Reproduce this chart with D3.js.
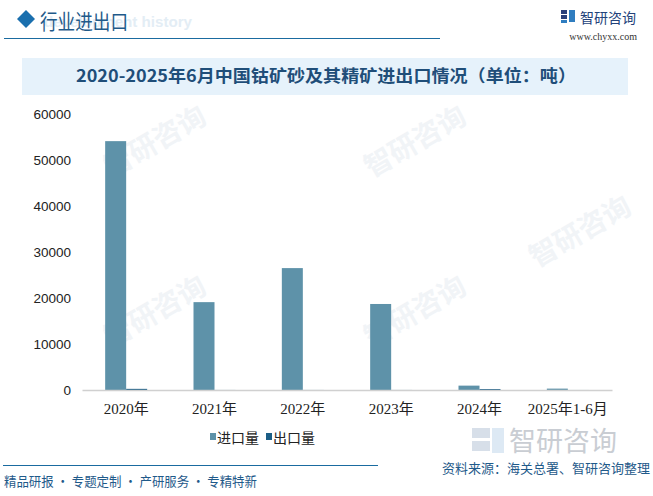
<!DOCTYPE html>
<html><head><meta charset="utf-8">
<script src="https://cdn.jsdelivr.net/npm/d3@7"></script>
<style>body{margin:0;background:#fff;}svg{display:block;}</style>
</head><body>
<script>
const categories = ["2020年","2021年","2022年","2023年","2024年","2025年1-6月"];
const importValues = [54100, 19100, 26500, 18700, 950, 300];
const exportValues = [250, 10, 10, 10, 200, 5];
const seriesNames = ["进口量","出口量"];
const seriesColors = ["#5e92a9","#1b5e86"];
const yTicks = [0,10000,20000,30000,40000,50000,60000];

const W=653,H=496;
const svg=d3.select("body").append("svg").attr("width",W).attr("height",H);

// faint watermarks
const wm=svg.append("g").attr("fill","#f1f4f7").attr("font-family","Noto Sans CJK SC").attr("font-weight","bold");
[[160,150],[420,150],[160,320],[420,320],[585,240]].forEach(p=>{
  wm.append("text").attr("transform",`translate(${p[0]},${p[1]}) rotate(-30)`).attr("text-anchor","middle")
    .attr("font-size",28).text("智研咨询");
});

// header
svg.append("path").attr("d","M17,19 L26,10 L35,19 L26,28 Z").attr("fill","#1a6fae");
svg.append("text").attr("x",44).attr("y",27).attr("font-family","Liberation Sans").attr("font-weight","bold")
  .attr("font-size",15).attr("fill","#e3edf5").attr("textLength",148).attr("lengthAdjust","spacingAndGlyphs")
  .text("development history");
svg.append("text").attr("x",40).attr("y",29).attr("font-family","Noto Sans CJK SC").attr("font-size",21)
  .attr("fill","#1f5a8a").attr("textLength",88).attr("lengthAdjust","spacingAndGlyphs").text("行业进出口");
svg.append("line").attr("x1",4).attr("x2",440).attr("y1",38.5).attr("y2",38.5).attr("stroke","#1a6ba0").attr("stroke-width",1.2);
// logo
const lg=svg.append("g");
lg.append("rect").attr("x",561).attr("y",10).attr("width",6).attr("height",4).attr("fill","#2a3f7a");
lg.append("rect").attr("x",561).attr("y",15).attr("width",6).attr("height",4).attr("fill","#2a3f7a");
lg.append("rect").attr("x",569).attr("y",10).attr("width",6).attr("height",12).attr("fill","#2f7dc0");
lg.append("rect").attr("x",561).attr("y",20).attr("width",6).attr("height",3).attr("fill","#2f7dc0");
svg.append("text").attr("x",580).attr("y",23).attr("font-family","Noto Sans CJK SC").attr("font-size",14)
  .attr("fill","#23427a").text("智研咨询");
svg.append("text").attr("x",637).attr("y",40).attr("text-anchor","end").attr("font-family","Liberation Serif")
  .attr("font-size",10).attr("fill","#333").text("www.chyxx.com");

// title
svg.append("rect").attr("x",22).attr("y",58).attr("width",606).attr("height",37).attr("fill","#e6f2fb");
svg.append("text").attr("x",326).attr("y",82).attr("text-anchor","middle").attr("font-family","Noto Sans CJK SC")
  .attr("font-weight","bold").attr("font-size",17).attr("fill","#1f4e79")
  .attr("textLength",500).attr("lengthAdjust","spacingAndGlyphs")
  .text("2020-2025年6月中国钴矿砂及其精矿进出口情况（单位：吨）");

// chart
const x=d3.scaleBand().domain(categories).range([82,612]).paddingInner(0).paddingOuter(0);
const y=d3.scaleLinear().domain([0,60000]).range([390,114]);
const bw=21;

const g=svg.append("g");
g.selectAll("rect.imp").data(categories).join("rect").attr("class","imp")
  .attr("x",d=>x(d)+x.bandwidth()/2-bw).attr("width",bw)
  .attr("y",(d,i)=>y(importValues[i])).attr("height",(d,i)=>y(0)-y(importValues[i]))
  .attr("fill",seriesColors[0]);
g.selectAll("rect.exp").data(categories).join("rect").attr("class","exp")
  .attr("x",d=>x(d)+x.bandwidth()/2).attr("width",bw)
  .attr("y",(d,i)=>y(exportValues[i])).attr("height",(d,i)=>y(0)-y(exportValues[i]))
  .attr("fill",seriesColors[1]);

// y axis
const ya=svg.append("g").attr("transform","translate(71,0)")
  .call(d3.axisLeft(y).tickValues(yTicks).tickSize(0).tickPadding(0).tickFormat(d3.format("d")));
ya.select(".domain").remove();
ya.selectAll("text").attr("font-family","Liberation Sans").attr("font-size",13.5).attr("fill","#222");

// x axis
const xa=svg.append("g").attr("transform","translate(0,390)")
  .call(d3.axisBottom(x).tickSize(0).tickPadding(13));
xa.select(".domain").attr("stroke","#d0d0d0").attr("stroke-width",1.5);
xa.selectAll("text").attr("font-family","Liberation Serif, Noto Sans CJK SC").attr("font-size",15).attr("fill","#222");

// legend
const leg=svg.append("g");
const legX=[210,266];
seriesNames.forEach((n,i)=>{
  leg.append("rect").attr("x",legX[i]).attr("y",433).attr("width",6).attr("height",7).attr("fill",seriesColors[i]);
  leg.append("text").attr("x",legX[i]+7).attr("y",443).attr("font-family","Noto Sans CJK SC").attr("font-size",14)
    .attr("fill","#222").text(n);
});

// footer watermark logo
const fw=svg.append("g").attr("opacity",0.35);
fw.append("rect").attr("x",472).attr("y",428).attr("width",18).attr("height",10).attr("fill","#8fa6c2");
fw.append("rect").attr("x",472).attr("y",441).attr("width",18).attr("height",10).attr("fill","#8fa6c2");
fw.append("rect").attr("x",492).attr("y",428).attr("width",12).attr("height",25).attr("fill","#9fc1e0");
svg.append("text").attr("x",509).attr("y",451).attr("font-family","Noto Sans CJK SC").attr("font-size",27)
  .attr("fill","#c9cdd3").text("智研咨询");

svg.append("line").attr("x1",3).attr("x2",378).attr("y1",465.5).attr("y2",465.5).attr("stroke","#1a6ba0").attr("stroke-width",1.2);
svg.append("text").attr("x",4).attr("y",486).attr("font-family","Noto Sans CJK SC").attr("font-size",13)
  .attr("fill","#1f5a8a").attr("textLength",253).attr("lengthAdjust","spacingAndGlyphs")
  .text("精品研报 · 专题定制 · 产研服务 · 专精特新");
svg.append("text").attr("x",650).attr("y",473).attr("text-anchor","end").attr("font-family","Noto Sans CJK SC").attr("font-size",13)
  .attr("fill","#1f5a8a").text("资料来源：海关总署、智研咨询整理");
</script>
</body></html>
